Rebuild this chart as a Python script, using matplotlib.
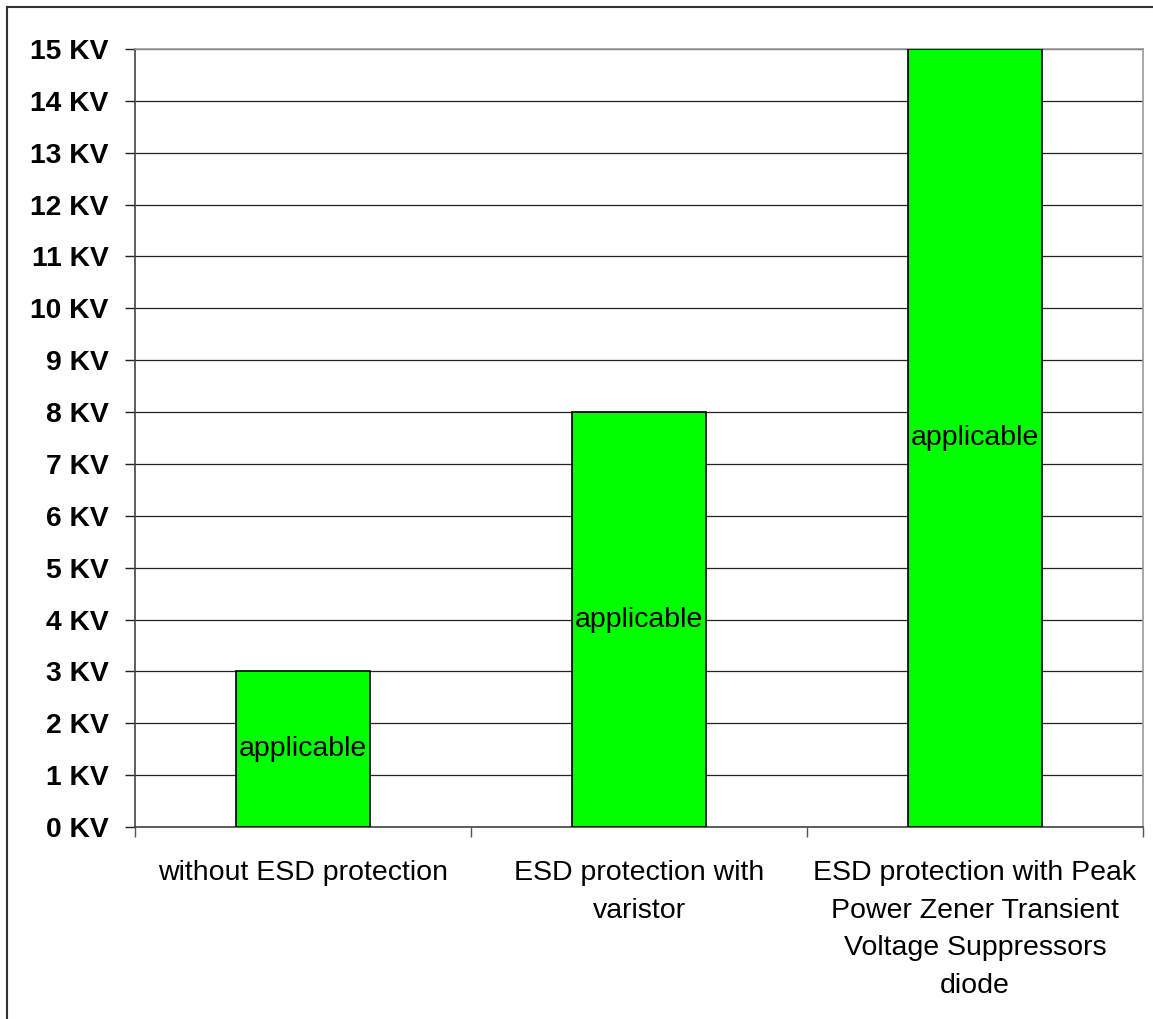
import matplotlib
matplotlib.use('Agg')
import matplotlib.pyplot as plt
from matplotlib.lines import Line2D

categories = ['without ESD protection',
              'ESD protection with\nvaristor',
              'ESD protection with Peak\nPower Zener Transient\nVoltage Suppressors\ndiode']
values = [3, 8, 15]
bar_text = ['applicable', 'applicable', 'applicable']
yticks = list(range(0, 16))
ytick_labels = [f'{v} KV' for v in yticks]

plt.rcParams['font.family'] = ['Liberation Sans', 'DejaVu Sans']

fig = plt.figure(figsize=(11.53, 10.19), dpi=100)
ax = fig.add_axes([135 / 1153, 1 - 827 / 1019, (1143 - 135) / 1153, (827 - 49) / 1019])

x = list(range(len(values)))
ax.bar(x, values, width=0.4, color='#00FF00', edgecolor='black', linewidth=1.2, zorder=3)
for xi, v, t in zip(x, values, bar_text):
    ax.text(xi, v / 2, t, ha='center', va='center', fontsize=20.5, zorder=4)

ax.set_xlim(-0.5, 2.5)
ax.set_ylim(0, 15)
ax.set_yticks(yticks)
ax.set_yticklabels(ytick_labels, fontsize=20.3, fontweight='bold')
ax.yaxis.grid(True, color='#222222', linewidth=0.9, zorder=0)

ax.set_xticks([-0.5, 0.5, 1.5, 2.5])
ax.set_xticklabels([])
ax.set_xticks(x, minor=True)
ax.set_xticklabels(categories, minor=True, fontsize=20.5, linespacing=1.57)
ax.tick_params(axis='x', which='minor', length=0, pad=24)
ax.tick_params(axis='x', which='major', length=7, width=1, color='#555555', direction='out')
ax.tick_params(axis='y', length=7, width=1, color='#222222', pad=12)

ax.spines['left'].set_color('#444444')
ax.spines['bottom'].set_color('#444444')
ax.spines['top'].set_color('#999999')
ax.spines['right'].set_color('#999999')
for s in ax.spines.values():
    s.set_linewidth(1.2)

# outer chart border
fig.add_artist(Line2D([7 / 1153, 7 / 1153], [0, 1 - 7 / 1019], color='#333333', linewidth=1.5))
fig.add_artist(Line2D([7 / 1153, 1], [1 - 7 / 1019, 1 - 7 / 1019], color='#333333', linewidth=1.5))

fig.savefig('out.png', dpi=100)
